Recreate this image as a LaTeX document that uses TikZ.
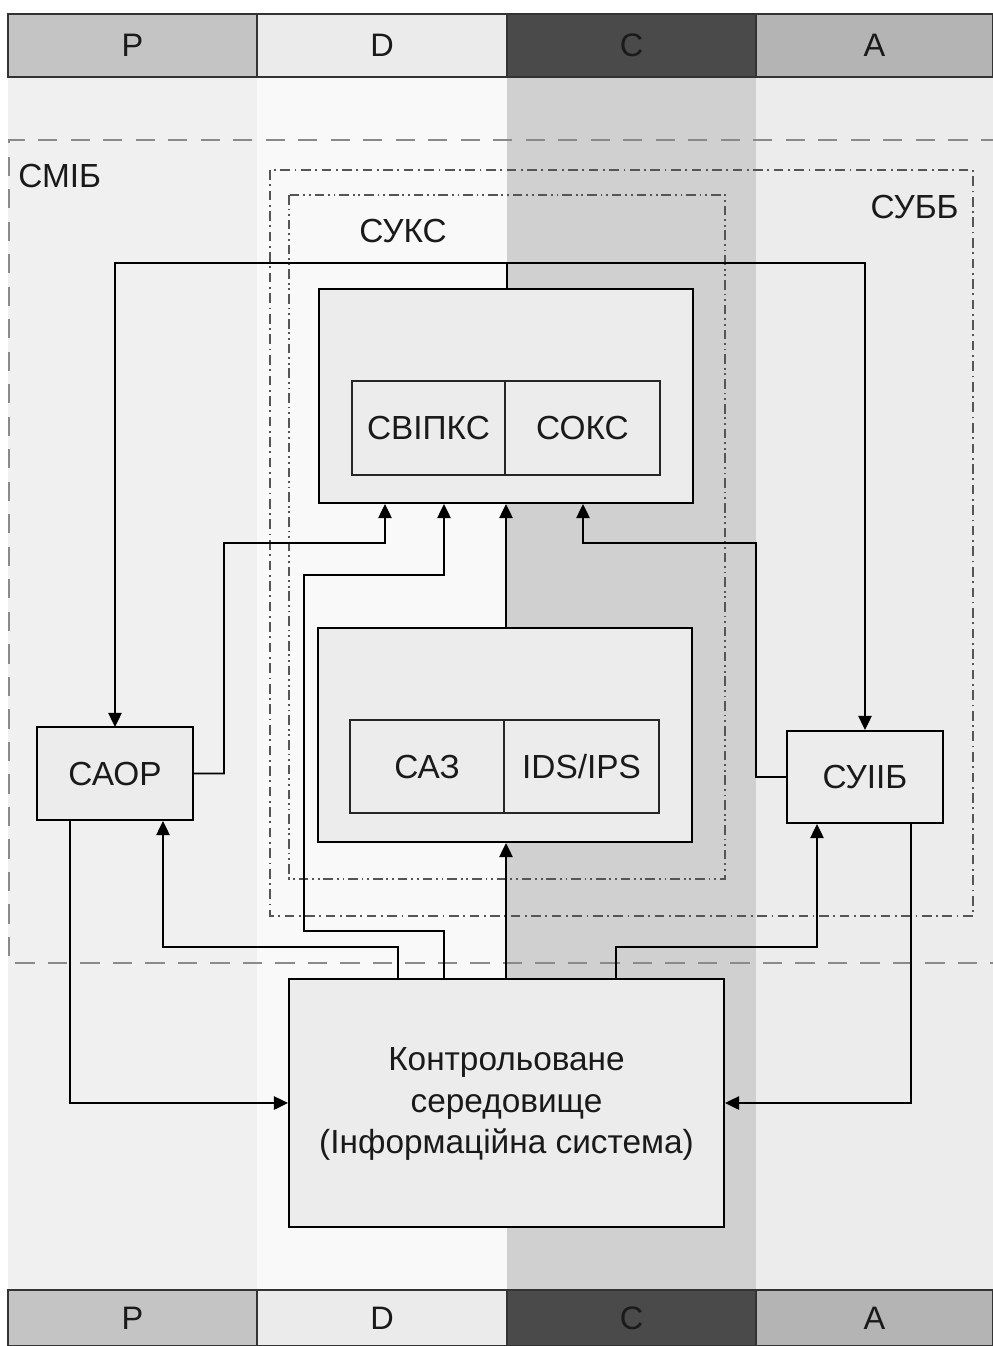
\documentclass[tikz,border=0pt]{standalone}
\usepackage{fontspec}
\setmainfont{Liberation Sans}
\usetikzlibrary{arrows.meta,fit}
\definecolor{hPc}{HTML}{C4C4C4}
\definecolor{hDc}{HTML}{EBEBEB}
\definecolor{hCc}{HTML}{4A4A4A}
\definecolor{hAc}{HTML}{B4B4B4}
\definecolor{bPc}{HTML}{F0F0F0}
\definecolor{bDc}{HTML}{F9F9F9}
\definecolor{bCc}{HTML}{D0D0D0}
\definecolor{bAc}{HTML}{ECECEC}
\definecolor{boxfill}{HTML}{ECECEC}
\definecolor{hline}{HTML}{333333}
\definecolor{dashgray}{HTML}{8A8A8A}
\definecolor{dotgray}{HTML}{555555}
\definecolor{txt}{HTML}{1A1A1A}
\begin{document}
\begin{tikzpicture}[x=0.02cm,y=-0.02cm,
  hdrcell/.style={draw=hline, line width=0.6pt, inner sep=0pt},
  hdrtxt/.style={inner sep=0pt, text=txt, font=\fontsize{18.5}{22}\selectfont},
  box/.style={draw=black, fill=boxfill, line width=1.1pt, inner sep=0pt},
  inbox/.style={draw=black!85, fill=boxfill, line width=0.8pt, inner sep=0pt},
  lbl/.style={inner sep=0pt, text=txt, font=\fontsize{19}{23.5}\selectfont},
  arr/.style={line width=1.1pt, -{Triangle[length=8pt,width=7.5pt]}},
  conn/.style={line width=1.1pt},
  smib/.style={draw=dashgray, line width=1.1pt, dash pattern=on 11pt off 7.5pt},
  subb/.style={draw=dotgray, line width=0.7pt, dash pattern=on 5.5pt off 2.6pt on 1pt off 2.6pt},
  suks/.style={draw=dotgray, line width=0.7pt, dash pattern=on 5.5pt off 2.2pt on 1pt off 2.2pt on 1pt off 2.2pt}
]
\useasboundingbox (0,0) rectangle (993,1346);
% column backgrounds
\fill[bPc] (8,77) rectangle (257,1290);
\fill[bDc] (257,77) rectangle (507,1290);
\fill[bCc] (507,77) rectangle (756,1290);
\fill[bAc] (756,77) rectangle (993,1290);
% header
\node[hdrcell, fill=hPc, fit={(8,14) (257,77)}, label={[hdrtxt]center:P}] (tP) {};
\node[hdrcell, fill=hDc, fit={(257,14) (507,77)}, label={[hdrtxt]center:D}] (tD) {};
\node[hdrcell, fill=hCc, fit={(507,14) (756,77)}, label={[hdrtxt]center:C}] (tC) {};
\node[hdrcell, fill=hAc, fit={(756,14) (993,77)}, label={[hdrtxt]center:A}] (tA) {};
% footer
\node[hdrcell, fill=hPc, fit={(8,1290) (257,1346)}, label={[hdrtxt]center:P}] (fP) {};
\node[hdrcell, fill=hDc, fit={(257,1290) (507,1346)}, label={[hdrtxt]center:D}] (fD) {};
\node[hdrcell, fill=hCc, fit={(507,1290) (756,1346)}, label={[hdrtxt]center:C}] (fC) {};
\node[hdrcell, fill=hAc, fit={(756,1290) (993,1346)}, label={[hdrtxt]center:A}] (fA) {};
% SMIB dashed region
\draw[smib] (1000,140) -- (9,140) -- (9,963) -- (1000,963);
\node[lbl, anchor=west] (lsmib) at (18,176) {СМІБ};
% SUBB dash-dot
\draw[subb] (270,170) rectangle (973,916);
\node[lbl, anchor=east] (lsubb) at (959,207) {СУББ};
% SUKS dash-dot-dot
\draw[suks] (289,195) rectangle (725,879);
\node[lbl] (lsuks) at (403,231) {СУКС};
% connectors behind boxes
\coordinate (j1) at (507,263);
\draw[arr] (j1) -- (115,263) -- (115,727);
\draw[arr] (j1) -- (865,263) -- (865,730);
% boxes
\node[box, fit={(319,289) (693,503)}] (top) {};
\node[inbox, fit={(352,381) (505,475)}, label={[lbl]center:СВІПКС}] (svipks) {};
\node[inbox, fit={(505,381) (660,475)}, label={[lbl]center:СОКС}] (soks) {};
\node[box, fit={(318,628) (692,842)}] (mid) {};
\node[inbox, fit={(350,720) (504,813)}, label={[lbl]center:САЗ}] (saz) {};
\node[inbox, fit={(504,720) (659,813)}, label={[lbl]center:IDS/IPS}] (ids) {};
\node[box, fit={(37,727) (193,820)}, label={[lbl]center:САОР}] (saor) {};
\node[box, fit={(787,731) (943,823)}, label={[lbl]center:СУІІБ}] (suiib) {};
\node[box, fit={(289,979) (724,1227)}] (env) {};
\node[lbl, align=center] (envtxt) at ([yshift=-0.02cm]env.center) {Контрольоване\\середовище\\(Інформаційна система)};
% top box -> junction
\draw[conn] (top.north -| 507,0) -- (j1);
% CAOP -> top
\draw[arr] (saor.east) -- (224,773.5) -- (224,543) -- (385,543) -- (top.south -| 385,0);
% env -> top (via left loop)
\draw[arr] (env.north -| 444,0) -- (444,931) -- (304,931) -- (304,575) -- (444,575) -- (top.south -| 444,0);
% env -> mid, mid -> top
\draw[arr] (env.north -| 506,0) -- (mid.south -| 506,0);
\draw[arr] (mid.north -| 506,0) -- (top.south -| 506,0);
% env -> CAOP
\draw[arr] (env.north -| 398,0) -- (398,947) -- (163,947) -- (saor.south -| 163,0);
% env -> SUIIB
\draw[arr] (env.north -| 616,0) -- (616,947) -- (817,947) -- (suiib.south -| 817,0);
% CAOP -> env
\draw[arr] (saor.south -| 70,0) |- (env.west);
% SUIIB -> env
\draw[arr] (suiib.south -| 911,0) |- (env.east);
% SUIIB -> top
\draw[arr] (suiib.west) -- (756,777) -- (756,543) -- (583,543) -- (top.south -| 583,0);
\end{tikzpicture}
\end{document}
